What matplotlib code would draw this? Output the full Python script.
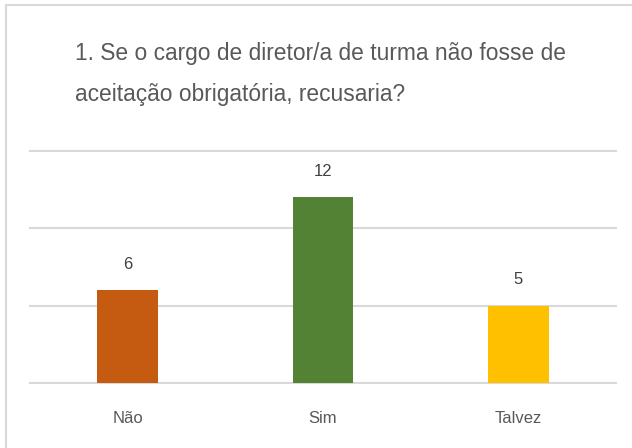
import matplotlib
matplotlib.use('Agg')
import matplotlib.pyplot as plt
from matplotlib.patches import Rectangle

categorias = ['Não', 'Sim', 'Talvez']
respostas = [6, 12, 5]
cores = ['#C55A11', '#548235', '#FFC000']
titulo = '1. Se o cargo de diretor/a de turma não fosse de\naceitação obrigatória, recusaria?'

plt.rcParams['font.family'] = ['Liberation Sans', 'DejaVu Sans']

fig = plt.figure(figsize=(6.32, 4.48), dpi=100)
ax = fig.add_axes([30/632, 1-383/448, (616-30)/632, (383-151)/448])

x = range(len(categorias))
ax.bar(x, respostas, width=0.31, color=cores, zorder=3)
for i, v in enumerate(respostas):
    ax.text(i, v + 1.2, str(v), ha='center', va='bottom', fontsize=12, color='#404040')

ax.set_xlim(-0.5, 2.5)
ax.set_ylim(0, 15)
ax.set_yticks([0, 5, 10, 15])
ax.yaxis.grid(True, color='#D9D9D9', linewidth=1.5, zorder=0)
for gl in ax.get_ygridlines():
    gl.set_clip_on(False)
ax.set_yticklabels([])
ax.tick_params(axis='y', length=0)
ax.set_xticks(list(x))
ax.set_xticklabels(categorias, fontsize=12, color='#595959')
ax.tick_params(axis='x', length=0, pad=20)
for s in ax.spines.values():
    s.set_visible(False)

fig.text(75/632, 1-74/448, titulo, ha='left', va='center', fontsize=16.4,
         color='#595959', linespacing=2.05)

# borda da caixa do gráfico
fig.add_artist(Rectangle((6/632, -0.1), 1.2, 1.1 - 5/448, transform=fig.transFigure,
                         fill=False, edgecolor='#D9D9D9', linewidth=1.5))

fig.savefig('out.png', dpi=100)
